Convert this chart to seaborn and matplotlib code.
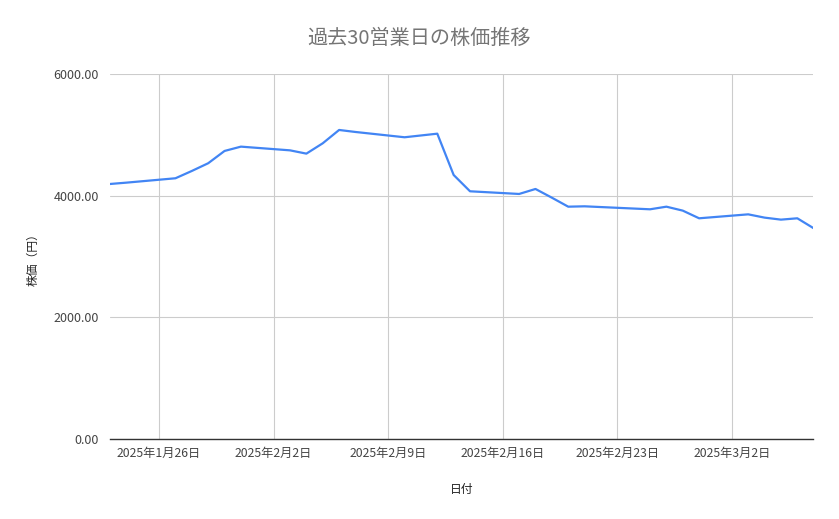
import pandas as pd
import matplotlib.pyplot as plt
import seaborn as sns

# 30 business days (Jan 23 - Mar 7, 2025, excluding weekends / JP holidays)
DATES = ['2025-01-23', '2025-01-24', '2025-01-27', '2025-01-28', '2025-01-29',
         '2025-01-30', '2025-01-31', '2025-02-03', '2025-02-04', '2025-02-05',
         '2025-02-06', '2025-02-07', '2025-02-10', '2025-02-12', '2025-02-13',
         '2025-02-14', '2025-02-17', '2025-02-18', '2025-02-19', '2025-02-20',
         '2025-02-21', '2025-02-25', '2025-02-26', '2025-02-27', '2025-02-28',
         '2025-03-03', '2025-03-04', '2025-03-05', '2025-03-06', '2025-03-07']
PRICES = [4192, 4214, 4286, 4406, 4533, 4735, 4806, 4745, 4691, 4861,
          5080, 5047, 4960, 5019, 4340, 4072, 4028, 4110, 3967, 3819,
          3825, 3776, 3819, 3754, 3628, 3693, 3639, 3606, 3628, 3464]
TICK_DATES = ['2025-01-26', '2025-02-02', '2025-02-09', '2025-02-16', '2025-02-23', '2025-03-02']
Y_TICKS = [0, 2000, 4000, 6000]

TITLE = '過去30営業日の株価推移'
X_LABEL = '日付'
Y_LABEL = '株価（円）'

sns.set_style('white')
plt.rcParams['font.family'] = ['Noto Sans CJK JP', 'DejaVu Sans']

df = pd.DataFrame({'date': pd.to_datetime(DATES), 'price': PRICES})
ticks = pd.to_datetime(TICK_DATES)

fig = plt.figure(figsize=(8.39, 5.19), dpi=100)
ax = fig.add_axes([110 / 839, 80 / 519, 703 / 839, 365 / 519])

sns.lineplot(data=df, x='date', y='price', ax=ax, color='#4285F4', linewidth=1.6)

ax.set_xlim(pd.Timestamp('2025-01-23'), pd.Timestamp('2025-03-06 23:00'))
ax.set_ylim(0, 6000)
ax.set_xticks(ticks)
ax.set_xticklabels([f'{d.year}年{d.month}月{d.day}日' for d in ticks])
ax.set_yticks(Y_TICKS)
ax.set_yticklabels([f'{v:.2f}' for v in Y_TICKS])

ax.grid(True, color='#cccccc', linewidth=0.8)
for side in ['top', 'right', 'left']:
    ax.spines[side].set_visible(False)
ax.spines['bottom'].set_color('#333333')
ax.spines['bottom'].set_linewidth(1.0)

ax.tick_params(axis='x', length=0, pad=6, labelsize=8.8, labelcolor='#444444')
ax.tick_params(axis='y', length=7, color='#cccccc', pad=1, labelsize=9, labelcolor='#444444')

ax.set_xlabel(X_LABEL, fontsize=8.5, color='#222222', labelpad=16)
ax.set_ylabel(Y_LABEL, fontsize=8.5, color='#222222', labelpad=10)
fig.text(0.5, 1 - 38 / 519, TITLE, ha='center', va='center',
         fontsize=14.5, color='#757575')

fig.savefig('out.png', dpi=100)
